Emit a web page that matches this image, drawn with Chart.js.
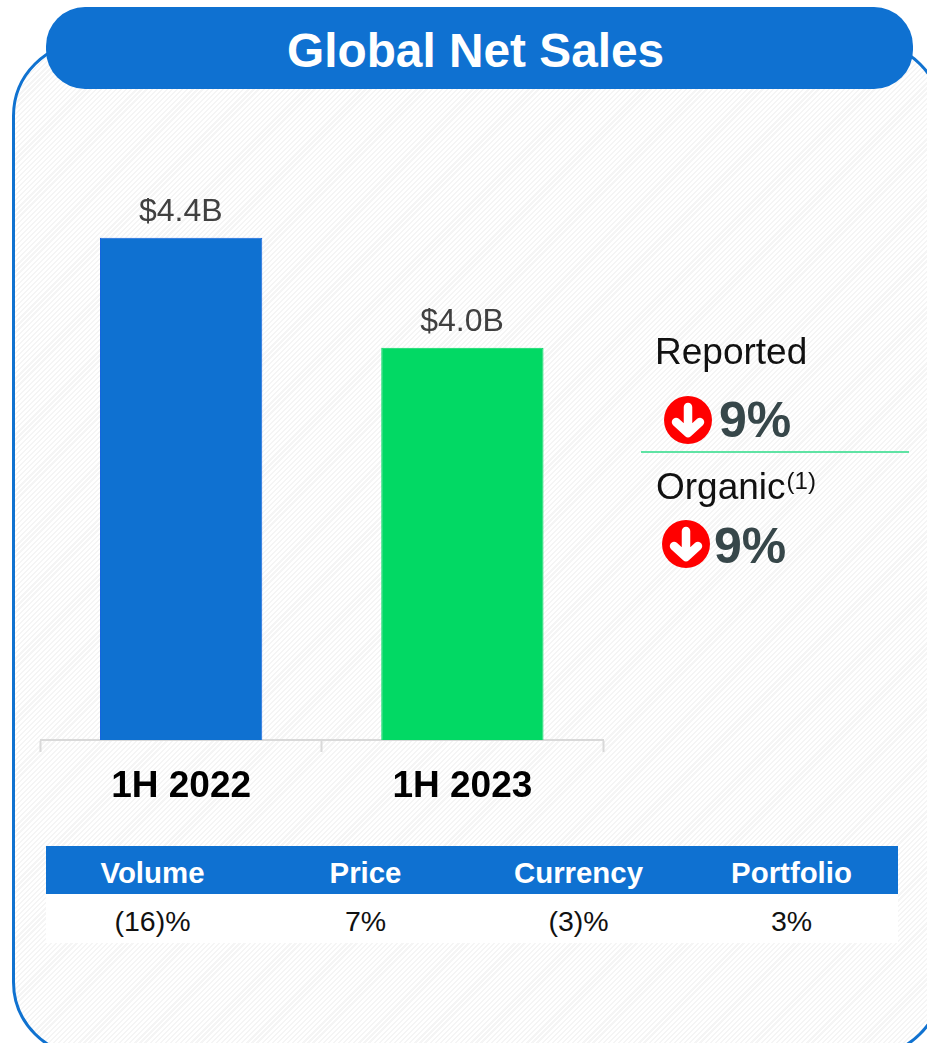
<!DOCTYPE html>
<html><head><meta charset="utf-8">
<script src="https://cdn.jsdelivr.net/npm/chart.js@4"></script>
<style>
html,body{margin:0;padding:0;background:#fff;width:927px;height:1043px;overflow:hidden;font-family:"Liberation Sans",Arial,sans-serif}
#stage{position:absolute;left:0;top:0;width:927px;height:1043px;overflow:hidden}
#panel{position:absolute;left:12px;top:41px;width:931px;height:1016px;box-sizing:border-box;border:3px solid #1072d0;border-radius:75px;
background:repeating-linear-gradient(135deg,#fff 0,#fff 2px,#f5f5f5 2px,#f5f5f5 3.6px)}
#titlebar{position:absolute;left:46px;top:7px;width:867px;height:82px;border-radius:39px;background:#0f71d1}
#titletext{position:absolute;left:287px;top:27px;color:#fff;font:bold 47.8px "Liberation Sans",Arial,sans-serif;line-height:1;white-space:nowrap}
canvas{position:absolute;left:0;top:0}
.t{position:absolute;white-space:nowrap;line-height:1}
.hr{position:absolute;left:641px;top:451px;width:268px;height:2px;background:#5fe3a4}
.big{font-weight:bold;font-size:50px;color:#37474a}
.arrow{position:absolute;width:48px;height:48px}
#thead{position:absolute;left:46px;top:846px;width:852px;height:48px;background:#0f71d1}
#tbody{position:absolute;left:46px;top:894px;width:852px;height:49px;background:#fff}
.cell{position:absolute;width:213px;text-align:center;line-height:1}
#thead .cell{color:#fff;font-weight:bold;font-size:29.4px;top:11.5px}
#tbody .cell{color:#111;font-size:28.5px;top:13px}
sup{font-size:24px;line-height:0;vertical-align:10px;margin-left:1px}
</style></head><body>
<div id="stage">
<div id="panel"></div>
<div id="titlebar"></div>
<div id="titletext">Global Net Sales</div>
<canvas id="c" width="927" height="1043"></canvas>
<div class="t" style="left:655px;top:333px;font-size:37px;color:#111">Reported</div>
<svg class="arrow" style="left:664px;top:396px" viewBox="0 0 48 48"><circle cx="24" cy="24" r="24" fill="#f00"/><path d="M24 11v24M12 26l12 11 12-11" fill="none" stroke="#fff" stroke-width="8.5" stroke-linecap="round" stroke-linejoin="round"/></svg>
<div class="t big" style="left:719px;top:395px">9%</div>
<div class="hr"></div>
<div class="t" style="left:656px;top:468px;font-size:37px;color:#111">Organic<sup>(1)</sup></div>
<svg class="arrow" style="left:662px;top:520px" viewBox="0 0 48 48"><circle cx="24" cy="24" r="24" fill="#f00"/><path d="M24 11v24M12 26l12 11 12-11" fill="none" stroke="#fff" stroke-width="8.5" stroke-linecap="round" stroke-linejoin="round"/></svg>
<div class="t big" style="left:714px;top:521px">9%</div>
<div id="thead"></div>
<div id="tbody"></div>
</div>
<script>
const categories = ["1H 2022", "1H 2023"];
const salesValues = [4.4, 4.0];
const salesLabels = ["$4.4B", "$4.0B"];
const barColors = ["#0f71d1", "#02d964"];
const barBorders = ["#1565e0", "#02d964"];
const driverNames = ["Volume", "Price", "Currency", "Portfolio"];
const driverValues = ["(16)%", "7%", "(3)%", "3%"];

driverNames.forEach((n, i) => {
  const h = document.createElement('div'); h.className = 'cell'; h.style.left = (i * 213) + 'px'; h.textContent = n;
  document.getElementById('thead').appendChild(h);
  const b = document.createElement('div'); b.className = 'cell'; b.style.left = (i * 213) + 'px'; b.textContent = driverValues[i];
  document.getElementById('tbody').appendChild(b);
});

const barLabels = {
  id: 'barLabels',
  afterDatasetsDraw(chart) {
    const ctx = chart.ctx, meta = chart.getDatasetMeta(0);
    ctx.save();
    ctx.font = '32px "Liberation Sans", Arial, sans-serif';
    ctx.fillStyle = '#404040';
    ctx.textAlign = 'center';
    ctx.textBaseline = 'alphabetic';
    meta.data.forEach((el, i) => ctx.fillText(salesLabels[i], el.x - 0.3, el.y - 17));
    ctx.restore();
  }
};

new Chart(document.getElementById('c'), {
  type: 'bar',
  data: { labels: categories, datasets: [{ data: salesValues, backgroundColor: barColors, borderColor: barBorders, borderWidth: 1, barPercentage: 0.577, categoryPercentage: 1 }] },
  options: {
    responsive: false, animation: false,
    layout: { padding: { left: 40.5, right: 324, top: 100, bottom: 0 } },
    plugins: { legend: { display: false }, tooltip: { enabled: false } },
    scales: {
      y: { display: false, min: 2.575, max: 4.9 },
      x: {
        offset: true,
        grid: { offset: true, drawOnChartArea: false, drawTicks: true, tickLength: 12, tickWidth: 2, tickColor: '#d9d9d9' },
        border: { color: '#d9d9d9', width: 2 },
        ticks: { color: '#000', padding: 13, maxRotation: 0, font: { family: '"Liberation Sans", Arial, sans-serif', size: 37, weight: 'bold' } },
        afterFit(s) { s.height = 303; }
      }
    }
  },
  plugins: [barLabels]
});
</script>
</body></html>
